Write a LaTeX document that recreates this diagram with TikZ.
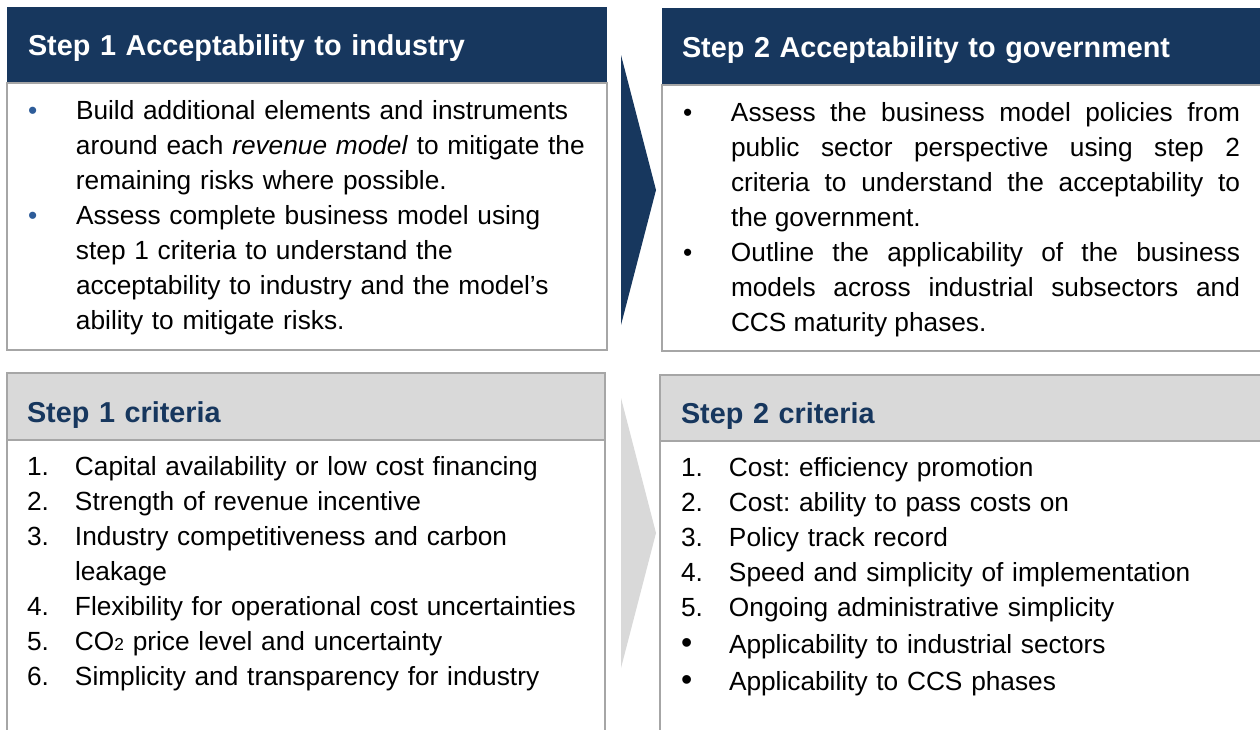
\documentclass[tikz,border=0pt]{standalone}
\usepackage{fontspec}
\setmainfont{Liberation Sans}
\usetikzlibrary{positioning,calc}
\definecolor{navy}{HTML}{17375E}
\definecolor{panelgrey}{HTML}{D9D9D9}
\definecolor{rulegrey}{HTML}{A6A6A6}
\definecolor{dotblue}{HTML}{2E5C99}
\newlength{\hangw}\setlength{\hangw}{36pt}
\newcommand{\stepitem}[2]{\par\leftskip=\hangw\noindent\llap{\makebox[\hangw][l]{#1}}#2}
\newcommand{\bigdot}{{\fontsize{24}{24}\selectfont\raisebox{-0.5pt}{•}}}

\begin{document}
\begin{tikzpicture}[x=0.75pt,y=-0.75pt,
    every node/.style={inner sep=0pt,outer sep=0pt},
    navyhead/.style={fill=navy,text=white,anchor=north west,minimum height=57pt,
      text height=16.3pt,text depth=0pt,
      align=left,font=\fontsize{21.6}{24}\selectfont\bfseries},
    greyhead/.style={fill=panelgrey,draw=rulegrey,line width=1.5pt,text=navy,anchor=north west,
      text height=23.8pt,text depth=0pt,
      align=left,font=\fontsize{21.6}{24}\selectfont\bfseries},
    panel/.style={draw=rulegrey,line width=1.5pt,fill=white,below=0pt of #1},
    itemtext/.style={anchor=north west,font=\fontsize{19.7}{26.25}\selectfont\frenchspacing}]

  \useasboundingbox (0,0) rectangle (1260,729);
  \clip (0,0) rectangle (1260,729);

  \node (hA) [navyhead,text width=418.5pt,inner xsep=15.75pt] at (7,7)
    {Step 1 Acceptability to industry};
  \node (bA) [panel=hA,minimum width=450pt,minimum height=200.25pt] {};

  \node (hB) [navyhead,text width=420pt,inner xsep=15pt,minimum height=57.75pt] at (662,8)
    {Step 2 Acceptability to government};
  \node (bB) [panel=hB,minimum width=450pt,minimum height=199.5pt] {};

  \node (hC) [greyhead,text width=418.5pt,inner xsep=15pt,minimum height=50.25pt] at (7,373)
    {Step 1 criteria};
  \node (bC) [panel=hC,minimum width=448.5pt,minimum height=225pt] {};

  \node (hD) [greyhead,text width=420pt,inner xsep=15.75pt,minimum height=49.5pt] at (660,375)
    {Step 2 criteria};
  \node (bD) [panel=hD,minimum width=451.5pt,minimum height=225pt] {};

  \fill[navy] (621,55) -- (656,190) -- (621,325) -- cycle;
  \fill[panelgrey] (621,398) -- (656,533) -- (621,668) -- cycle;

  \node (tA) [itemtext,text width=435pt,align=left] at ($(bA.north west)+(21,1)$)
  {\stepitem{\textcolor{dotblue}{•}}{Build additional elements and instruments\newline
      around each \textit{revenue model} to mitigate the\newline
      remaining risks where possible.}
    \stepitem{\textcolor{dotblue}{•}}{Assess complete business model using\newline
      step 1 criteria to understand the\newline
      acceptability to industry and the model’s\newline
      ability to mitigate risks.}\par};

  \node (tB) [itemtext,text width=417.75pt,align=justify] at ($(bB.north west)+(21,1)$)
  {\stepitem{•}{Assess the business model policies from\linebreak
      public sector perspective using step 2\linebreak
      criteria to understand the acceptability to\linebreak
      the government.}
    \stepitem{•}{Outline the applicability of the business\linebreak
      models across industrial subsectors and\linebreak
      CCS maturity phases.}\par};

  \node (tC) [itemtext,text width=430pt,align=left] at ($(bC.north west)+(20,0)$)
  {\stepitem{1.}{Capital availability or low cost financing}
    \stepitem{2.}{Strength of revenue incentive}
    \stepitem{3.}{Industry competitiveness and carbon\newline leakage}
    \stepitem{4.}{Flexibility for operational cost uncertainties}
    \stepitem{5.}{CO{\fontsize{13}{13}\selectfont 2} price level and uncertainty}
    \stepitem{6.}{Simplicity and transparency for industry}\par};

  \node (tD) [itemtext,text width=430pt,align=left] at ($(bD.north west)+(21,0)$)
  {\stepitem{1.}{Cost: efficiency promotion}
    \stepitem{2.}{Cost: ability to pass costs on}
    \stepitem{3.}{Policy track record}
    \stepitem{4.}{Speed and simplicity of implementation}
    \stepitem{5.}{Ongoing administrative simplicity}
    \par\vspace{1.5pt}
    \stepitem{\bigdot}{Applicability to industrial sectors}
    \par\vspace{1.5pt}
    \stepitem{\bigdot}{Applicability to CCS phases}\par};
\end{tikzpicture}
\end{document}
